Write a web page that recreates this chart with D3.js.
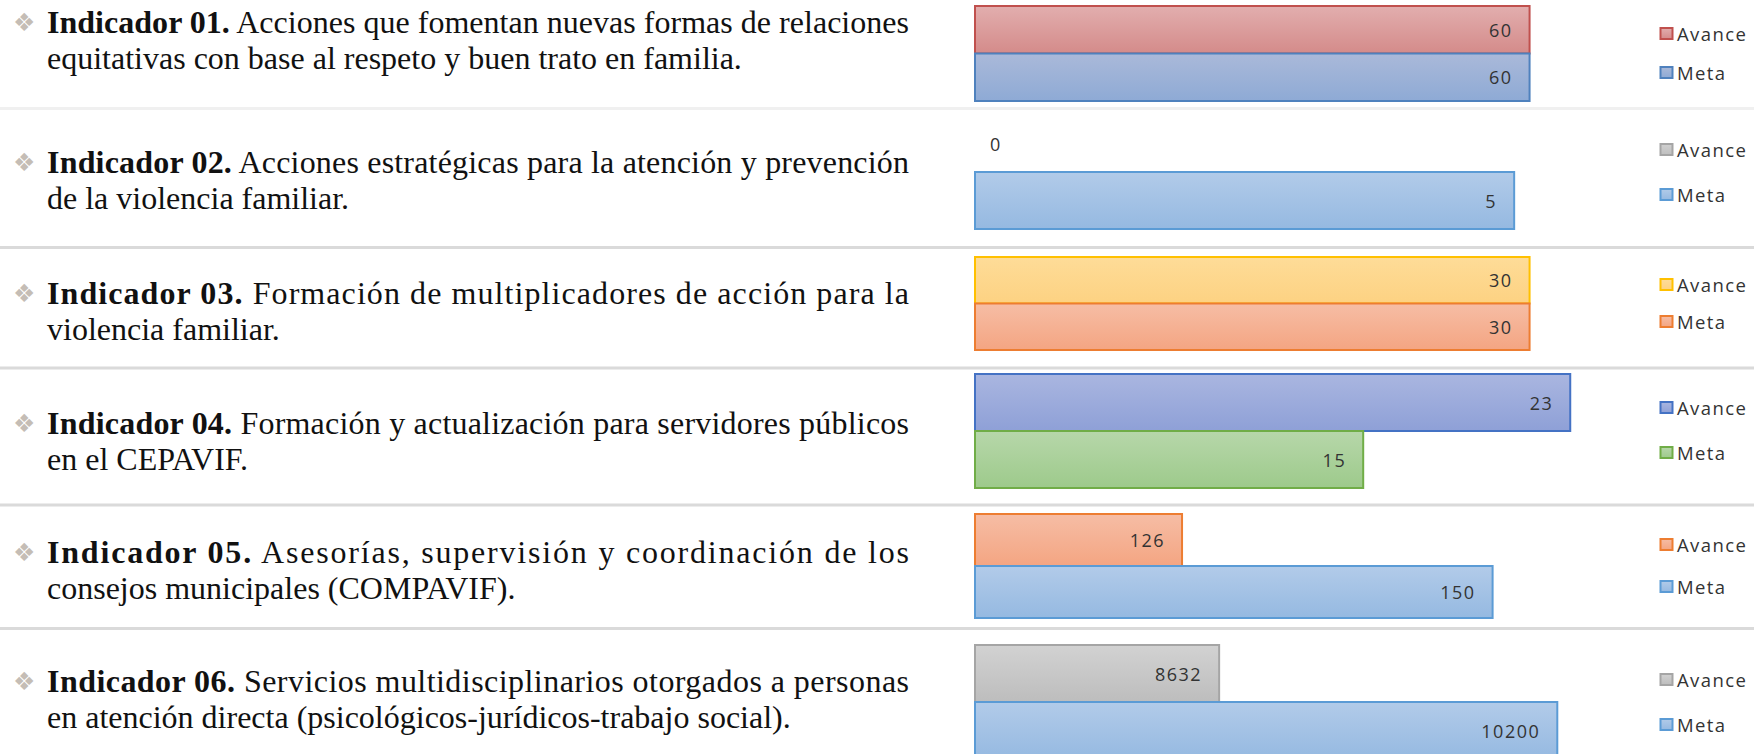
<!DOCTYPE html>
<html>
<head>
<meta charset="utf-8">
<script src="https://cdn.jsdelivr.net/npm/d3@7"></script>
<style>
  body { margin: 0; background: #fff; }
</style>
</head>
<body>
<div id="chart-area"></div>
<script>
// data
var indicadores = ["Indicador 01.", "Indicador 02.", "Indicador 03.", "Indicador 04.", "Indicador 05.", "Indicador 06."];
var linea1 = [
	"Acciones que fomentan nuevas formas de relaciones",
	"Acciones estratégicas para la atención y prevención",
	"Formación de multiplicadores de acción para la",
	"Formación y actualización para servidores públicos",
	"Asesorías, supervisión y coordinación de los",
	"Servicios multidisciplinarios otorgados a personas"
];
var linea2 = [
	"equitativas con base al respeto y buen trato en familia.",
	"de la violencia familiar.",
	"violencia familiar.",
	"en el CEPAVIF.",
	"consejos municipales (COMPAVIF).",
	"en atención directa (psicológicos-jurídicos-trabajo social)."
];
var series = ["Avance", "Meta"];
var avance = [60, 0, 30, 23, 126, 8632];
var meta = [60, 5, 30, 15, 150, 10200];
var axisMin = [0, 0, 0, 0, 110, 7500];
var axisMax = [70, 6, 35, 25, 160, 10500];

// styles: [fill top, fill bottom, border] per panel and series
var colores = [
	[["#e2aeae", "#d48b8a", "#c0504d"], ["#aab9d9", "#8eaad5", "#4f81bd"]],
	[["#d0d0d0", "#bfbfbf", "#a5a5a5"], ["#b2cbe9", "#95b9e1", "#5b9bd5"]],
	[["#fedc98", "#fdd282", "#ffc000"], ["#f6bda5", "#f4a582", "#ed7d31"]],
	[["#aab6e0", "#8ea0d7", "#4472c4"], ["#b7d7aa", "#9dca8b", "#70ad47"]],
	[["#f6bda5", "#f4a582", "#ed7d31"], ["#b2cbe9", "#95b9e1", "#5b9bd5"]],
	[["#d2d2d2", "#bdbdbd", "#a5a5a5"], ["#b2cbe9", "#95b9e1", "#5b9bd5"]]
];

var width = 1754, height = 754;

// layout of each panel (bar area top/bottom, text baseline)
var panelTop = [6, 115, 257, 374, 514, 645];
var panelBottom = [101, 229, 350, 488, 618, 759];
var textBase = [33, 173, 304, 434, 563, 692];
var legendY = [[34, 73], [150, 195], [285, 322], [408, 453], [545, 587], [680, 725]];
var separators = [108.5, 247.5, 368, 505, 628.5];

var svg = d3.select("#chart-area").append("svg")
	.attr("width", width)
	.attr("height", height);

var defs = svg.append("defs");

colores.forEach(function (pair, i) {
	pair.forEach(function (c, j) {
		var grad = defs.append("linearGradient")
			.attr("id", "g" + i + "_" + j)
			.attr("x1", 0).attr("y1", 0).attr("x2", 0).attr("y2", 1);
		grad.append("stop").attr("offset", "0%").attr("stop-color", c[0]);
		grad.append("stop").attr("offset", "100%").attr("stop-color", c[1]);
	});
});

//separator lines
svg.selectAll("line.sep").data(separators).enter().append("line")
	.attr("class", "sep")
	.attr("x1", 0).attr("x2", width)
	.attr("y1", d => d).attr("y2", d => d)
	.attr("stroke", (d, i) => i === 0 ? "#f0f0f0" : "#dadada")
	.attr("stroke-width", 3);

indicadores.forEach(function (ind, i) {

	var g = svg.append("g");

	// bullet
	g.append("text")
		.attr("x", 13)
		.attr("y", textBase[i] - 2)
		.attr("font-family", "DejaVu Sans")
		.attr("font-size", "25px")
		.attr("fill", "#c5bdb5")
		.text("❖");

	// description
	var t1 = g.append("text")
		.attr("x", 47)
		.attr("y", textBase[i])
		.attr("font-family", "Liberation Serif")
		.attr("font-size", "32px")
		.attr("fill", "#111")
		.attr("textLength", 862)
		.attr("lengthAdjust", "spacing");
	t1.append("tspan").attr("font-weight", "bold").text(ind);
	t1.append("tspan").text(" " + linea1[i]);

	g.append("text")
		.attr("x", 47)
		.attr("y", textBase[i] + 36)
		.attr("font-family", "Liberation Serif")
		.attr("font-size", "32px")
		.attr("fill", "#111")
		.text(linea2[i]);

	// bars
	var x = d3.scaleLinear().domain([axisMin[i], axisMax[i]]).range([975, 1622]);
	var y = d3.scaleBand().domain(series).range([panelTop[i], panelBottom[i]]).padding(0);
	var vals = [avance[i], meta[i]];

	var bars = g.selectAll("rect.bar").data(vals).enter();

	bars.append("rect")
		.attr("class", "bar")
		.attr("x", x(axisMin[i]))
		.attr("y", (d, j) => y(series[j]))
		.attr("width", d => x(d) - x(axisMin[i]))
		.attr("height", y.bandwidth())
		.attr("fill", (d, j) => "url(#g" + i + "_" + j + ")")
		.attr("stroke", (d, j) => colores[i][j][2])
		.attr("stroke-width", 2)
		.attr("display", d => d > axisMin[i] ? null : "none");

	bars.append("text")
		.attr("x", d => (x(d) - x(axisMin[i]) > 40) ? x(d) - 17 : x(axisMin[i]) + 15)
		.attr("y", (d, j) => y(series[j]) + y.bandwidth() / 2 + 7)
		.attr("text-anchor", d => (x(d) - x(axisMin[i]) > 40) ? "end" : "start")
		.attr("font-family", "Open Sans")
		.attr("font-size", "18px")
		.attr("letter-spacing", "1.5px")
		.attr("fill", "#333")
		.text(d => d);

	// legend
	series.forEach(function (s, j) {
		g.append("rect")
			.attr("x", 1660.5)
			.attr("y", legendY[i][j] - 6)
			.attr("width", 12)
			.attr("height", 11)
			.attr("fill", "url(#g" + i + "_" + j + ")")
			.attr("stroke", colores[i][j][2])
			.attr("stroke-width", 2);
		g.append("text")
			.attr("x", 1677)
			.attr("y", legendY[i][j] + 7)
			.attr("font-family", "Open Sans")
			.attr("font-size", "18.5px")
			.attr("letter-spacing", "1.4px")
			.attr("fill", "#333")
			.text(s);
	});
});
</script>
</body>
</html>
